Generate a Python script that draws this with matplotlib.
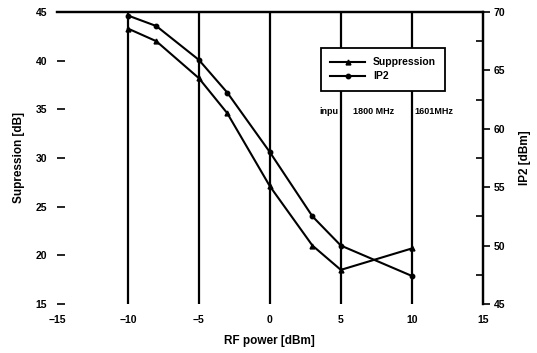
import matplotlib
matplotlib.use("Agg")
import matplotlib.pyplot as plt
from matplotlib.ticker import MultipleLocator

plt.rcParams["font.family"] = ["Liberation Sans", "DejaVu Sans"]
plt.rcParams["font.weight"] = "bold"

rf_power = [-10, -8, -5, -3, 0, 3, 5, 10]
suppression = [43.3, 42.0, 38.2, 34.6, 27.1, 21.0, 18.5, 20.7]
ip2 = [69.7, 68.8, 65.9, 63.1, 58.0, 52.5, 50.0, 47.4]

x_ticks = [-15, -10, -5, 0, 5, 10, 15]
left_ticks = [15, 20, 25, 30, 35, 40, 45]
right_ticks = [45, 50, 55, 60, 65, 70]

fig = plt.figure(figsize=(5.37, 3.53), dpi=100)
ax = fig.add_axes([0.106, 0.139, 0.793, 0.827])
ax2 = ax.twinx()

l1, = ax.plot(rf_power, suppression, color="k", lw=1.5, marker="^", ms=3.5,
              label="Suppression")
l2, = ax2.plot(rf_power, ip2, color="k", lw=1.5, marker="o", ms=3.2,
               label="IP2")

ax.set_xlim(-15, 15)
ax.set_ylim(15, 45)
ax2.set_ylim(45, 70)
ax.set_xticks(x_ticks)
ax.set_yticks(left_ticks)
ax2.set_yticks(right_ticks)
ax2.yaxis.set_minor_locator(MultipleLocator(2.5))

# vertical grid lines, only the inner ones
ax.xaxis.grid(True, color="k", lw=1.6)
ax.get_xgridlines()[0].set_visible(False)
ax.get_xgridlines()[-1].set_visible(False)

for a in (ax, ax2):
    a.spines["left"].set_visible(False)
    a.spines["bottom"].set_visible(False)
    a.spines["top"].set_linewidth(1.6)
    a.spines["right"].set_linewidth(1.6)

ax.tick_params(axis="x", length=0, labelsize=7.5, pad=8)
ax.tick_params(axis="y", direction="in", length=6, width=1.2, labelsize=7.5, pad=7)
ax2.tick_params(axis="y", which="major", direction="out", length=5, width=1.2,
                labelsize=7.5, pad=3)
ax2.tick_params(axis="y", which="minor", direction="in", length=5, width=1.2)

ax.set_xlabel("RF power [dBm]", fontsize=8.5, fontweight="bold", labelpad=7)
ax.set_ylabel("Supression [dB]", fontsize=8.5, fontweight="bold", labelpad=8)
ax2.set_ylabel("IP2 [dBm]", fontsize=8.5, fontweight="bold", labelpad=10)

leg = ax2.legend(handles=[l1, l2], loc="upper left",
                 bbox_to_anchor=(0.62, 0.877), fontsize=7.5, frameon=True,
                 fancybox=False, edgecolor="k", framealpha=1,
                 handlelength=3.3, borderpad=0.9, labelspacing=0.4,
                 borderaxespad=0)
leg.get_frame().set_linewidth(1.3)

ax2.text(0.66, 0.658, "inpu", transform=ax2.transAxes, fontsize=6.5,
         ha="right", va="center")
ax2.text(0.695, 0.658, "1800 MHz", transform=ax2.transAxes, fontsize=6.5,
         ha="left", va="center")
ax2.text(0.84, 0.658, "1601MHz", transform=ax2.transAxes, fontsize=6.5,
         ha="left", va="center")

fig.savefig("out.png", dpi=100, facecolor="white")
